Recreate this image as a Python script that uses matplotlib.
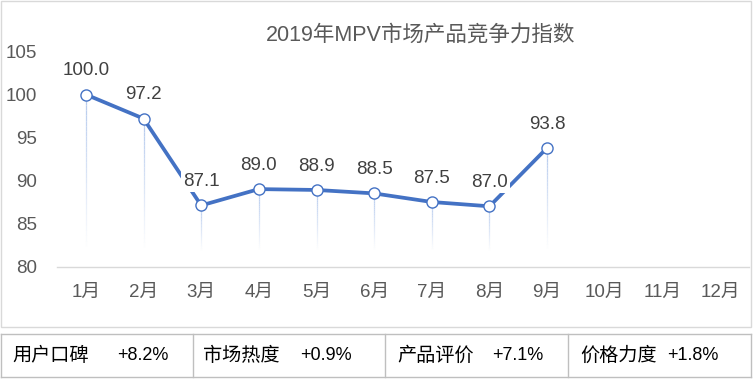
import matplotlib
matplotlib.use('Agg')
import matplotlib.pyplot as plt
from matplotlib.patches import Rectangle
from matplotlib.lines import Line2D
from matplotlib.collections import LineCollection
import numpy as np

plt.rcParams['font.family'] = ['Liberation Sans', 'Noto Sans CJK SC']

title = '2019年MPV市场产品竞争力指数'
months = ['1月', '2月', '3月', '4月', '5月', '6月', '7月', '8月', '9月', '10月', '11月', '12月']
values = [100.0, 97.2, 87.1, 89.0, 88.9, 88.5, 87.5, 87.0, 93.8]
y_ticks = [80, 85, 90, 95, 100, 105]
table_labels = ['用户口碑', '市场热度', '产品评价', '价格力度']
table_values = ['+8.2%', '+0.9%', '+7.1%', '+1.8%']

W, H = 754, 379
fig = plt.figure(figsize=(W / 100, H / 100), dpi=100)
fig.patch.set_facecolor('white')


def fx(x):
    return x / W


def fy(y):
    return 1 - y / H


ax = fig.add_axes([fx(57), fy(266.5), fx(749) - fx(57), fy(51.5) - fy(266.5)])
ax.set_xlim(-0.5, len(months) - 0.5)
ax.set_ylim(y_ticks[0], y_ticks[-1])
x = np.arange(len(values))

# fading drop lines
for xi, v in zip(x, values):
    n = 30
    ys = np.linspace(v, 81.8, n + 1)
    segs = [[(xi, ys[i]), (xi, ys[i + 1])] for i in range(n)]
    alphas = np.linspace(0.9, 0.0, n)
    cols = [(0.68, 0.77, 0.92, a) for a in alphas]
    ax.add_collection(LineCollection(segs, colors=cols, linewidths=0.9, zorder=1))

ax.plot(x, values, color='#4472C4', lw=2.7, marker='o', ms=8,
        mfc='white', mec='#4472C4', mew=1.0, zorder=3, solid_capstyle='butt')

for xi, v in zip(x, values):
    ax.annotate(f'{v:.1f}', (xi, v), xytext=(0, 17), textcoords='offset points',
                ha='center', va='center', fontsize=13.5, color='#404040',
                bbox=dict(boxstyle='square,pad=0.1', fc='white', ec='none'), zorder=4)

ax.set_xticks(np.arange(len(months)))
ax.set_xticklabels(months)
ax.set_yticks(y_ticks)
ax.tick_params(axis='both', length=0, labelsize=13.5, labelcolor='#595959')
ax.tick_params(axis='y', pad=14.5)
ax.tick_params(axis='x', pad=12.5)
for s in ['top', 'left', 'right']:
    ax.spines[s].set_visible(False)
ax.spines['bottom'].set_color('#D9D9D9')
ax.spines['bottom'].set_linewidth(1.0)

fig.text(fx(421), fy(35), title, ha='center', va='center', fontsize=15.5, color='#595959')

# chart border
fig.add_artist(Rectangle((fx(1), fy(327)), fx(751) - fx(1), fy(1) - fy(327),
                         transform=fig.transFigure, fill=False, ec='#D9D9D9', lw=1))

# table
tc = '#BFBFBF'
top, bot = 334, 377
cols_x = [1, 193, 385, 568, 751]
fig.add_artist(Line2D([fx(1), fx(751)], [fy(top), fy(top)], transform=fig.transFigure, color=tc, lw=1))
fig.add_artist(Line2D([fx(1), fx(751)], [fy(bot), fy(bot)], transform=fig.transFigure, color=tc, lw=1))
for cx in cols_x:
    fig.add_artist(Line2D([fx(cx), fx(cx)], [fy(top), fy(bot)], transform=fig.transFigure, color=tc, lw=1))

label_x = [12, 203, 397, 580]
value_x = [117, 300, 492, 667]
for lab, val, lx, vx in zip(table_labels, table_values, label_x, value_x):
    fig.text(fx(lx), fy(356), lab, ha='left', va='center', fontsize=13.8, color='#000000', fontweight='medium')
    fig.text(fx(vx), fy(356), val, ha='left', va='center', fontsize=13, color='#000000')

fig.savefig('out.png', dpi=100, facecolor='white')
